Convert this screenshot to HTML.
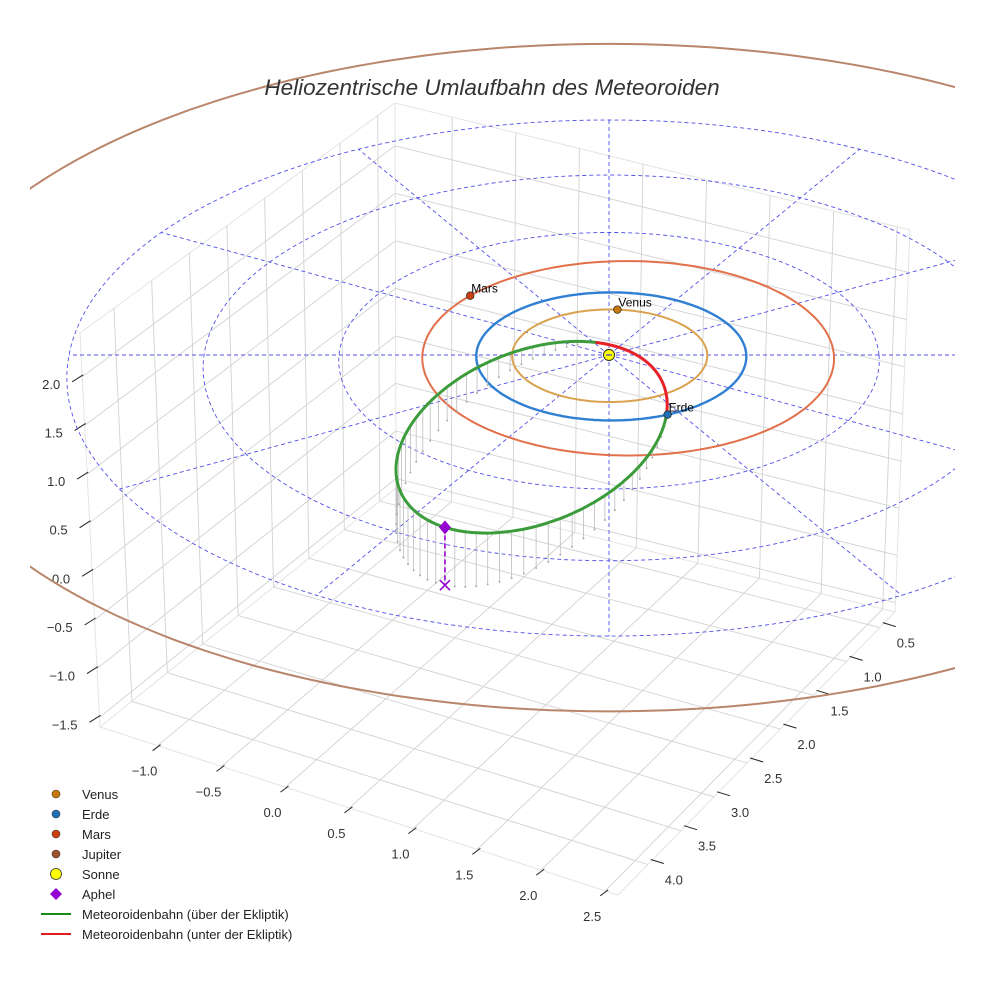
<!DOCTYPE html>
<html><head><meta charset="utf-8">
<style>
html,body{margin:0;padding:0;background:#fff;}
svg{display:block;font-family:"Liberation Sans",sans-serif;}
</style></head>
<body>
<svg id="chart" width="984" height="984" viewBox="0 0 984 984" xmlns="http://www.w3.org/2000/svg">
<defs><clipPath id="clipArea"><rect x="30" y="0" width="925" height="984"/></clipPath></defs>
<rect x="0" y="0" width="984" height="984" fill="#fff"/>
<g id="gGrid"></g>
<g id="gTicks"></g>
<g id="gEcl" clip-path="url(#clipArea)"></g>
<g id="gOrb" clip-path="url(#clipArea)"></g>
<text x="492" y="95" text-anchor="middle" font-size="22.5" font-style="italic" fill="#333">Heliozentrische Umlaufbahn des Meteoroiden</text>
<g font-size="13" fill="#222">
<circle cx="56" cy="794" r="4" fill="#c8780a" stroke="#333" stroke-width="0.6"/>
<text x="82" y="799">Venus</text>
<circle cx="56" cy="814" r="4" fill="#1f6fb4" stroke="#333" stroke-width="0.6"/>
<text x="82" y="819">Erde</text>
<circle cx="56" cy="834" r="4" fill="#cc4010" stroke="#333" stroke-width="0.6"/>
<text x="82" y="839">Mars</text>
<circle cx="56" cy="854" r="4" fill="#a0522d" stroke="#333" stroke-width="0.6"/>
<text x="82" y="859">Jupiter</text>
<circle cx="56" cy="874" r="5.5" fill="#ffff00" stroke="#333" stroke-width="0.8"/>
<text x="82" y="879">Sonne</text>
<path d="M56 888 L62 894 L56 900 L50 894 Z" fill="#9400d3"/>
<text x="82" y="899">Aphel</text>
<line x1="41" y1="914" x2="71" y2="914" stroke="#1a8a1a" stroke-width="2"/>
<text x="82" y="919">Meteoroidenbahn (über der Ekliptik)</text>
<line x1="41" y1="934" x2="71" y2="934" stroke="#e41a1c" stroke-width="2"/>
<text x="82" y="939">Meteoroidenbahn (unter der Ekliptik)</text>
</g>
</svg>
<script>
// ---- data ----
const xTicks=[-1.0,-0.5,0.0,0.5,1.0,1.5,2.0,2.5];
const yTicks=[0.5,1.0,1.5,2.0,2.5,3.0,3.5,4.0];
const zTicks=[-1.5,-1.0,-0.5,0.0,0.5,1.0,1.5,2.0];
const xRange=[-1.45,2.6];
const yRange=[0.27,4.45];
const zRange=[-1.6,2.45];
const planetNames=['Venus','Erde','Mars','Jupiter'];
const semiMajorAU=[0.723,1.0,1.524,5.203];
const eccentricity=[0.007,0.017,0.093,0.048];
const periAngleDeg=[180,180,180,90];
const planetAngleDeg=[-85,65,-138,null];
const gridRadiiAU=[2,3,4];
const radialAnglesDeg=[0,30,60,90,120,150,180,210,240,270,300,330];
const aphelionVec=[-1.125,3.33,0.57];
const nodeDir=[0.407,0.887];
const nodeRadiusAU=1.0;

// ---- helpers ----
const NS='http://www.w3.org/2000/svg';
function mk(tag,attrs,parent){const e=document.createElementNS(NS,tag);for(const k in attrs)e.setAttribute(k,attrs[k]);parent.appendChild(e);return e;}
const gGrid=document.getElementById('gGrid'),gTicks=document.getElementById('gTicks'),gEcl=document.getElementById('gEcl'),gOrb=document.getElementById('gOrb');
function lerp(a,b,t){return [a[0]+(b[0]-a[0])*t,a[1]+(b[1]-a[1])*t];}
function bil(p00,p10,p01,p11,s,t){return lerp(lerp(p00,p10,s),lerp(p01,p11,s),t);}
const A=[100,727],B=[618,895],C=[895,612],D=[396,488],At=[80,333],Dt=[395,103],Ct=[910,230];
function fx(x){return (x-xRange[0])/(xRange[1]-xRange[0]);}
function gy(y){return (yRange[1]-y)/(yRange[1]-yRange[0]);}
function fz(z){return (z-zRange[0])/(zRange[1]-zRange[0]);}
function seg(p,q,parent,stroke,w){return mk('line',{x1:p[0].toFixed(1),y1:p[1].toFixed(1),x2:q[0].toFixed(1),y2:q[1].toFixed(1),stroke:stroke,'stroke-width':w},parent);}
function fmt(v){return (v<0?'\u2212':'')+Math.abs(v).toFixed(1);}

// ---- box panes edges ----
const paneEdges=[[A,B],[B,C],[C,D],[D,A],[A,At],[At,Dt],[Dt,D],[Dt,Ct],[Ct,C]];
for(const pe of paneEdges){const l=seg(pe[0],pe[1],gGrid,'#e4e4e4',1);

}
for(const x of xTicks){const l=seg(bil(A,B,D,C,fx(x),0),bil(A,B,D,C,fx(x),1),gGrid,'#d2d2d2',0.9);

}
for(const y of yTicks){const l=seg(bil(A,B,D,C,0,gy(y)),bil(A,B,D,C,1,gy(y)),gGrid,'#d2d2d2',0.9);

}
for(const y of yTicks){const l=seg(bil(A,D,At,Dt,gy(y),0),bil(A,D,At,Dt,gy(y),1),gGrid,'#d2d2d2',0.9);

}
for(const z of zTicks){const l=seg(bil(A,D,At,Dt,0,fz(z)),bil(A,D,At,Dt,1,fz(z)),gGrid,'#d2d2d2',0.9);

}
for(const x of xTicks){const l=seg(bil(D,C,Dt,Ct,fx(x),0),bil(D,C,Dt,Ct,fx(x),1),gGrid,'#d2d2d2',0.9);

}
for(const z of zTicks){const l=seg(bil(D,C,Dt,Ct,0,fz(z)),bil(D,C,Dt,Ct,1,fz(z)),gGrid,'#d2d2d2',0.9);

}

// ---- ticks & labels ----
for(const x of xTicks){const p=lerp(A,B,fx(x));
const l=seg([p[0]-5,p[1]+5],[p[0]+3,p[1]-1],gTicks,'#222',1);


const t=mk('text',{x:(p[0]-13).toFixed(1),y:(p[1]+30).toFixed(1),'text-anchor':'middle','font-size':'13',fill:'#333'},gTicks);t.textContent=fmt(x);

}
for(const y of yTicks){const p=lerp(B,C,gy(y));
const l=seg([p[0]+3,p[1]-5],[p[0]+16,p[1]-1],gTicks,'#222',1);


const t=mk('text',{x:(p[0]+26).toFixed(1),y:(p[1]+20).toFixed(1),'text-anchor':'middle','font-size':'13',fill:'#333'},gTicks);t.textContent=fmt(y);

}
for(const z of zTicks){const p=lerp(A,At,fz(z));
const l=seg([p[0]-10,p[1]+5],[p[0]+1,p[1]-2],gTicks,'#222',1);


const t=mk('text',{x:(p[0]-22).toFixed(1),y:(p[1]+12).toFixed(1),'text-anchor':'end','font-size':'13',fill:'#333'},gTicks);t.textContent=fmt(z);

}

// ---- ecliptic perspective projection ----
function P(u,v,z){const d=1-0.0223*v;return [609+135*u/d,355+(64*v-94*(z||0))/d];}
function pathFrom(pts){return pts.map((p,i)=>(i?'L':'M')+p[0].toFixed(1)+' '+p[1].toFixed(1)).join(' ');}
for(const R of gridRadiiAU){const pts=[];for(let d=0;d<=360;d+=2){const a=d*Math.PI/180;pts.push(P(R*Math.cos(a),R*Math.sin(a),0));}
const e=mk('path',{d:pathFrom(pts),fill:'none',stroke:'#5050e8','stroke-width':0.9,'stroke-dasharray':'4 3'},gEcl);

}
for(const ang of radialAnglesDeg){const a=ang*Math.PI/180;const R=gridRadiiAU[gridRadiiAU.length-1];
const p0=P(0,0,0),p1=P(R*Math.cos(a),R*Math.sin(a),0);
const e=mk('line',{x1:p0[0],y1:p0[1],x2:p1[0].toFixed(1),y2:p1[1].toFixed(1),stroke:'#5050e8','stroke-width':0.9,'stroke-dasharray':'4 3'},gEcl);

}

// ---- planet orbits ----
const orbitColors=['#d8a24e','#2f7fd2','#e2704a','#b9866b'];
const orbitWidths=[2,2.4,2,2];
const markerColors=['#c8780a','#1f6fb4','#cc4010','#a0522d'];
function orbitPoint(i,phiDeg){const a=semiMajorAU[i],e=eccentricity[i];const phi=phiDeg*Math.PI/180,w=periAngleDeg[i]*Math.PI/180;const r=a*(1-e*e)/(1+e*Math.cos(phi-w));return [r*Math.cos(phi),r*Math.sin(phi)];}
for(let i=0;i<planetNames.length;i++){const pts=[];for(let d=0;d<=360;d+=1.5){const q=orbitPoint(i,d);pts.push(P(q[0],q[1],0));}
const o=mk('path',{d:pathFrom(pts),fill:'none',stroke:orbitColors[i],'stroke-width':orbitWidths[i]},gOrb);

}

// ---- meteoroid orbit ----
const Qd=Math.hypot(aphelionVec[0],aphelionVec[1],aphelionVec[2]);
const Ph=aphelionVec.map(c=>-c/Qd);
const nl=Math.hypot(nodeDir[0],nodeDir[1]);const nv=[nodeDir[0]/nl,nodeDir[1]/nl,0];
const cN=nv[0]*Ph[0]+nv[1]*Ph[1]+nv[2]*Ph[2];
let Qh=[nv[0]-cN*Ph[0],nv[1]-cN*Ph[1],nv[2]-cN*Ph[2]];const ql=Math.hypot(Qh[0],Qh[1],Qh[2]);Qh=Qh.map(c=>c/ql);
const ecc=(Qd-nodeRadiusAU)/(Qd+nodeRadiusAU*cN);const pSL=Qd*(1-ecc);
function mPoint(th){const r=pSL/(1+ecc*Math.cos(th));const c=Math.cos(th),s=Math.sin(th);return [r*(c*Ph[0]+s*Qh[0]),r*(c*Ph[1]+s*Qh[1]),r*(c*Ph[2]+s*Qh[2])];}
const aM=pSL/(1-ecc*ecc),bM=aM*Math.sqrt(1-ecc*ecc);
for(let k=0;k<72;k++){const E=2*Math.PI*k/72;const X=aM*(Math.cos(E)-ecc),Y=bM*Math.sin(E);
const q=[X*Ph[0]+Y*Qh[0],X*Ph[1]+Y*Qh[1],X*Ph[2]+Y*Qh[2]];if(q[2]<0.02)continue;
const top=P(q[0],q[1],q[2]),bot=P(q[0],q[1],0);
const l=seg(top,bot,gOrb,'#bdbdbd',0.8);


const d=mk('circle',{cx:bot[0].toFixed(1),cy:bot[1].toFixed(1),r:1,fill:'#aaa'},gOrb);

}
let cur=null,curSign=null,pieces=[];
for(let d=-180;d<=180;d+=0.5){const q=mPoint(d*Math.PI/180);const sg=q[2]>=0;const sp=P(q[0],q[1],q[2]);
if(sg!==curSign){if(cur){cur.pts.push(sp);pieces.push(cur);}cur={above:sg,pts:[sp]};curSign=sg;}else cur.pts.push(sp);}
pieces.push(cur);
for(const pc of pieces){const o=mk('path',{d:pathFrom(pc.pts),fill:'none',stroke:pc.above?'#3c9c3c':'#e8202a','stroke-width':3,'stroke-linecap':'round'},gOrb);

}
const apT=P(aphelionVec[0],aphelionVec[1],aphelionVec[2]),apB=P(aphelionVec[0],aphelionVec[1],0);
const apl=mk('line',{x1:apT[0],y1:apT[1],x2:apB[0],y2:apB[1],stroke:'#9400d3','stroke-width':1.6,'stroke-dasharray':'5 3'},gOrb);


const apx=mk('path',{d:`M${apB[0]-5} ${apB[1]-5} L${apB[0]+5} ${apB[1]+5} M${apB[0]-5} ${apB[1]+5} L${apB[0]+5} ${apB[1]-5}`,stroke:'#9400d3','stroke-width':1.5,fill:'none'},gOrb);


const apm=mk('path',{d:`M${apT[0]} ${apT[1]-7} L${apT[0]+6} ${apT[1]} L${apT[0]} ${apT[1]+7} L${apT[0]-6} ${apT[1]} Z`,fill:'#9400d3'},gOrb);



// ---- planets ----
for(let i=0;i<planetNames.length;i++){if(planetAngleDeg[i]===null)continue;const q=orbitPoint(i,planetAngleDeg[i]);const s=P(q[0],q[1],0);
const c=mk('circle',{cx:s[0].toFixed(1),cy:s[1].toFixed(1),r:3.8,fill:markerColors[i],stroke:'#222','stroke-width':0.7},gOrb);


const t=mk('text',{x:(s[0]+1).toFixed(1),y:(s[1]-3).toFixed(1),'font-size':'12',fill:'#000'},gOrb);t.textContent=planetNames[i];

}
const sp=P(0,0,0);
const sun=mk('circle',{cx:sp[0],cy:sp[1],r:5.5,fill:'#ffff00',stroke:'#222','stroke-width':0.9},gOrb);


const sunc=mk('line',{x1:sp[0]-3,y1:sp[1],x2:sp[0]+3,y2:sp[1],stroke:'#4040d0','stroke-width':1.2},gOrb);


</script>
</body></html>
